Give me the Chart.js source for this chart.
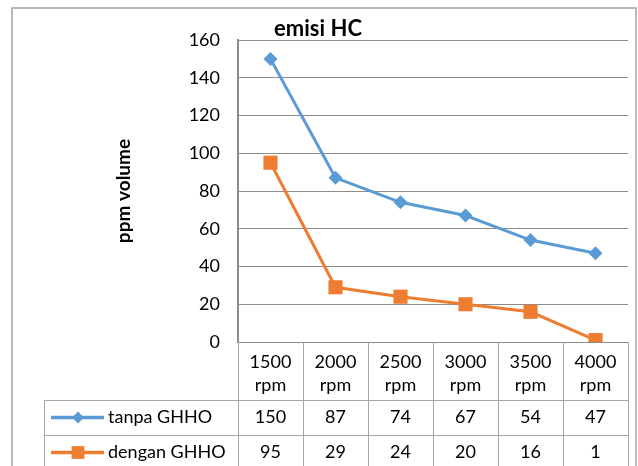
<!DOCTYPE html>
<html>
<head>
<meta charset="utf-8">
<script src="https://cdn.jsdelivr.net/npm/chart.js@4.4.1/dist/chart.umd.min.js"></script>
<style>
    html, body { margin: 0; padding: 0; background: #ffffff; }
    #wrap { width: 638px; height: 466px; position: relative; }
</style>
</head>
<body>
<div id="wrap"><canvas id="chart"></canvas></div>
<script>
// data
const rpmLabels = ['1500 rpm', '2000 rpm', '2500 rpm', '3000 rpm', '3500 rpm', '4000 rpm'];
const tanpaGHHO = [150, 87, 74, 67, 54, 47];
const denganGHHO = [95, 29, 24, 20, 16, 1];
const yTickMin = 0;
const yTickMax = 160;
const yTickStep = 20;

const FONT = 'Lato, "Open Sans", sans-serif';
const BLUE = '#5b9bd5';
const ORANGE = '#ed7d31';

// draws the outer frame and the data table under the plot
const tablePlugin = {
    id: 'dataTable',
    afterDraw(chart) {
        const { ctx, chartArea: a, scales: { x } } = chart;
        const n = rpmLabels.length;
        const band = (a.right - a.left) / n;
        const top = a.bottom;
        const headBottom = top + 58;
        const row1Bottom = headBottom + 35;
        const tableBottom = row1Bottom + 35;
        const legendLeft = 44;

        ctx.save();

        // outer chart frame
        ctx.strokeStyle = '#a3a3a3';
        ctx.lineWidth = 1.5;
        ctx.strokeRect(12, 8, 624, 480);

        // table grid
        ctx.strokeStyle = '#a6a6a6';
        ctx.lineWidth = 1;
        ctx.beginPath();
        for (let i = 0; i <= n; i++) {
            const ex = Math.round(x.getPixelForValue(0) - band / 2 + i * band) + 0.5;
            ctx.moveTo(ex, top);
            ctx.lineTo(ex, tableBottom);
        }
        [headBottom, row1Bottom].forEach(yy => {
            ctx.moveTo(legendLeft, Math.round(yy) + 0.5);
            ctx.lineTo(a.right, Math.round(yy) + 0.5);
        });
        ctx.moveTo(legendLeft + 0.5, headBottom);
        ctx.lineTo(legendLeft + 0.5, tableBottom);
        ctx.stroke();

        // header and values
        ctx.fillStyle = '#000';
        ctx.font = '18px ' + FONT;
        ctx.textAlign = 'center';
        ctx.textBaseline = 'middle';
        rpmLabels.forEach((lab, i) => {
            const cx = x.getPixelForValue(i);
            const parts = lab.split(' ');
            ctx.fillText(parts[0], cx, top + 20);
            ctx.fillText(parts[1], cx, top + 43);
        });

        const rows = [
            { ds: chart.data.datasets[0], y: headBottom + 17.5 },
            { ds: chart.data.datasets[1], y: row1Bottom + 17.5 }
        ];
        rows.forEach(r => {
            ctx.fillStyle = '#000';
            ctx.textAlign = 'center';
            r.ds.data.forEach((v, i) => {
                ctx.fillText(String(v), x.getPixelForValue(i), r.y);
            });

            // legend key
            ctx.strokeStyle = r.ds.borderColor;
            ctx.lineWidth = 3.5;
            ctx.beginPath();
            ctx.moveTo(51, r.y);
            ctx.lineTo(104, r.y);
            ctx.stroke();
            ctx.fillStyle = r.ds.borderColor;
            Chart.helpers.drawPoint(ctx, {
                pointStyle: r.ds.pointStyle,
                radius: r.ds.pointStyle === 'rect' ? 9 : 6,
                rotation: 0,
                borderWidth: 0
            }, 78, r.y);

            ctx.fillStyle = '#000';
            ctx.textAlign = 'left';
            ctx.fillText(r.ds.label, 108, r.y);
        });

        ctx.restore();
    }
};

new Chart(document.getElementById('chart'), {
    type: 'line',
    data: {
        labels: rpmLabels,
        datasets: [
            {
                label: 'tanpa GHHO',
                data: tanpaGHHO,
                borderColor: BLUE,
                backgroundColor: BLUE,
                borderWidth: 3,
                pointStyle: 'rectRot',
                pointRadius: 7,
                pointBorderWidth: 0,
                tension: 0
            },
            {
                label: 'dengan GHHO',
                data: denganGHHO,
                borderColor: ORANGE,
                backgroundColor: ORANGE,
                borderWidth: 3,
                pointStyle: 'rect',
                pointRadius: 10,
                pointBorderWidth: 0,
                tension: 0
            }
        ]
    },
    options: {
        responsive: true,
        maintainAspectRatio: false,
        animation: false,
        events: [],
        layout: { padding: { left: 0, right: 2, top: 0, bottom: 124 } },
        plugins: {
            legend: { display: false },
            tooltip: { enabled: false },
            title: {
                display: true,
                text: 'emisi HC',
                color: '#000',
                font: { family: FONT, size: 22, weight: 'bold', lineHeight: 1 },
                padding: { top: 18, bottom: 0 }
            }
        },
        scales: {
            x: {
                display: false,
                offset: true
            },
            y: {
                min: yTickMin,
                max: yTickMax,
                afterFit(scale) { scale.width = 238; },
                ticks: {
                    stepSize: yTickStep,
                    padding: 18,
                    color: '#000',
                    font: { family: FONT, size: 18 }
                },
                grid: {
                    color: '#8c8c8c',
                    lineWidth: 1,
                    drawTicks: false
                },
                border: { color: '#8c8c8c', width: 2 },
                title: {
                    display: true,
                    text: 'ppm volume',
                    color: '#000',
                    font: { family: FONT, size: 19, weight: 'bold' },
                    padding: { top: 112, bottom: 0 }
                }
            }
        }
    },
    plugins: [tablePlugin]
});
</script>
</body>
</html>
